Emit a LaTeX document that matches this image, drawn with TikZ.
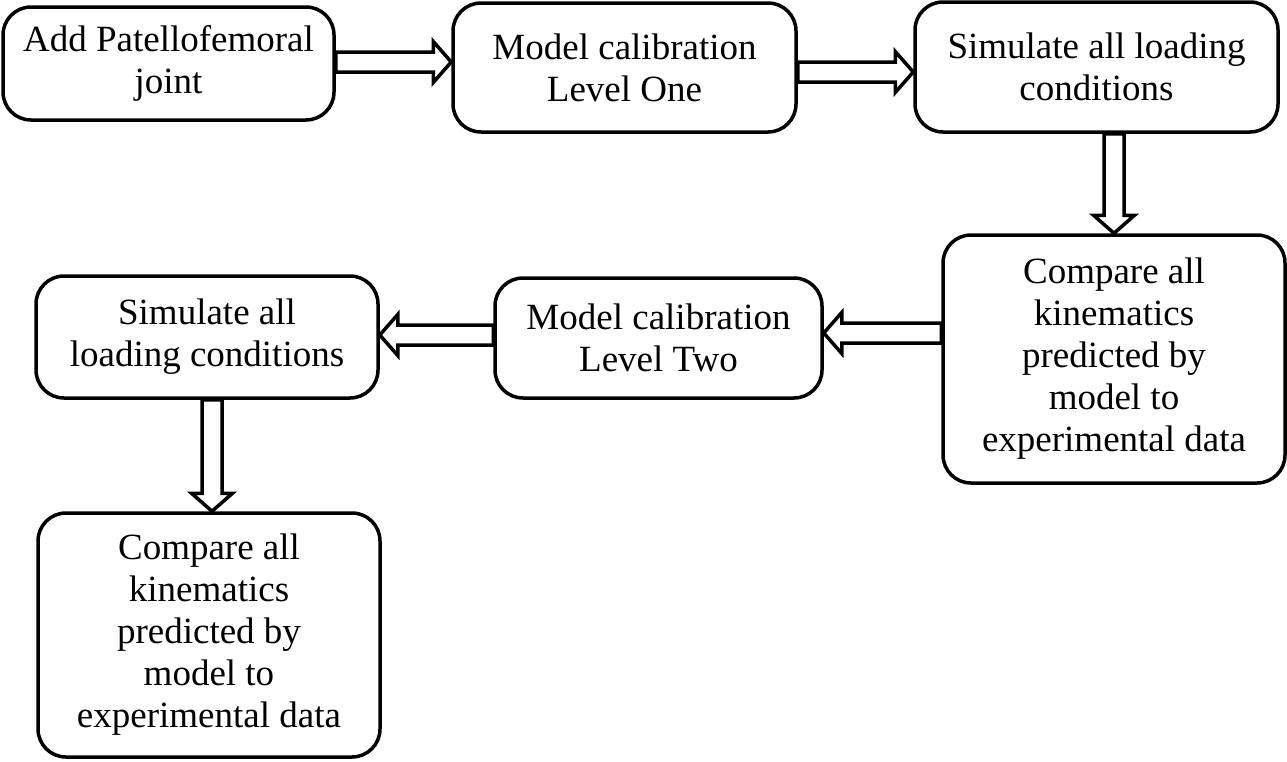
\documentclass[tikz,border=0pt]{standalone}
\usepackage{fontspec}
\setmainfont{Liberation Serif}
\usetikzlibrary{calc}

% hollow block arrow from #1 to #2
\newcommand{\flowarrow}[2]{%
  \draw[flow] let \p1=#1, \p2=#2,
      \n1={atan2(\y2-\y1,\x2-\x1)}, \n2={veclen(\x2-\x1,\y2-\y1)} in
    [shift={(\p1)}, rotate=\n1]
    (0,-10) -- (\n2-18,-10) -- (\n2-18,-20.5) -- (\n2,0)
    -- (\n2-18,20.5) -- (\n2-18,10) -- (0,10) -- cycle;}

\begin{document}
\begin{tikzpicture}[x=1pt,y=-1pt]
  \tikzset{box/.style={draw, line width=3.5pt, rounded corners=28pt, inner sep=0pt,
      align=center, font=\fontsize{37}{42}\selectfont},
    flow/.style={draw, line width=3.5pt, fill=white, line join=miter}}
  \useasboundingbox (0,0) rectangle (1287,761);

  \node[box, minimum width=331, minimum height=113] (b1) at (168.5,63.5)
    {Add Patellofemoral\\joint};
  \node[box, minimum width=343, minimum height=129] (b2) at (624.5,67.5)
    {Model calibration\\Level One};
  \node[box, minimum width=363, minimum height=130] (b3) at (1096.5,67)
    {Simulate all loading\\conditions};
  \node[box, minimum width=342, minimum height=248] (b4) at (1114,359)
    {Compare all\\kinematics\\predicted by\\model to\\experimental data};
  \node[box, minimum width=327, minimum height=120] (b5) at (658.5,338)
    {Model calibration\\Level Two};
  \node[box, minimum width=342, minimum height=122] (b6) at (207,337)
    {Simulate all\\loading conditions};
  \node[box, minimum width=342, minimum height=244] (b7) at (209,635)
    {Compare all\\kinematics\\predicted by\\model to\\experimental data};

  \flowarrow{([yshift=1.5pt]b1.east)}{([yshift=1.5pt]b1.east -| b2.west)}
  \flowarrow{([yshift=-4.5pt]b2.east)}{([yshift=-4.5pt]b2.east -| b3.west)}
  \flowarrow{(b3.south -| b4.north)}{(b4.north)}
  \flowarrow{([yshift=5pt]b4.west |- b5.east)}{([yshift=5pt]b5.east)}
  \flowarrow{([yshift=3pt]b5.west)}{([yshift=3pt]b5.west -| b6.east)}
  \flowarrow{([xshift=3pt]b6.south -| b7.north)}{([xshift=3pt]b7.north)}
\end{tikzpicture}
\end{document}
